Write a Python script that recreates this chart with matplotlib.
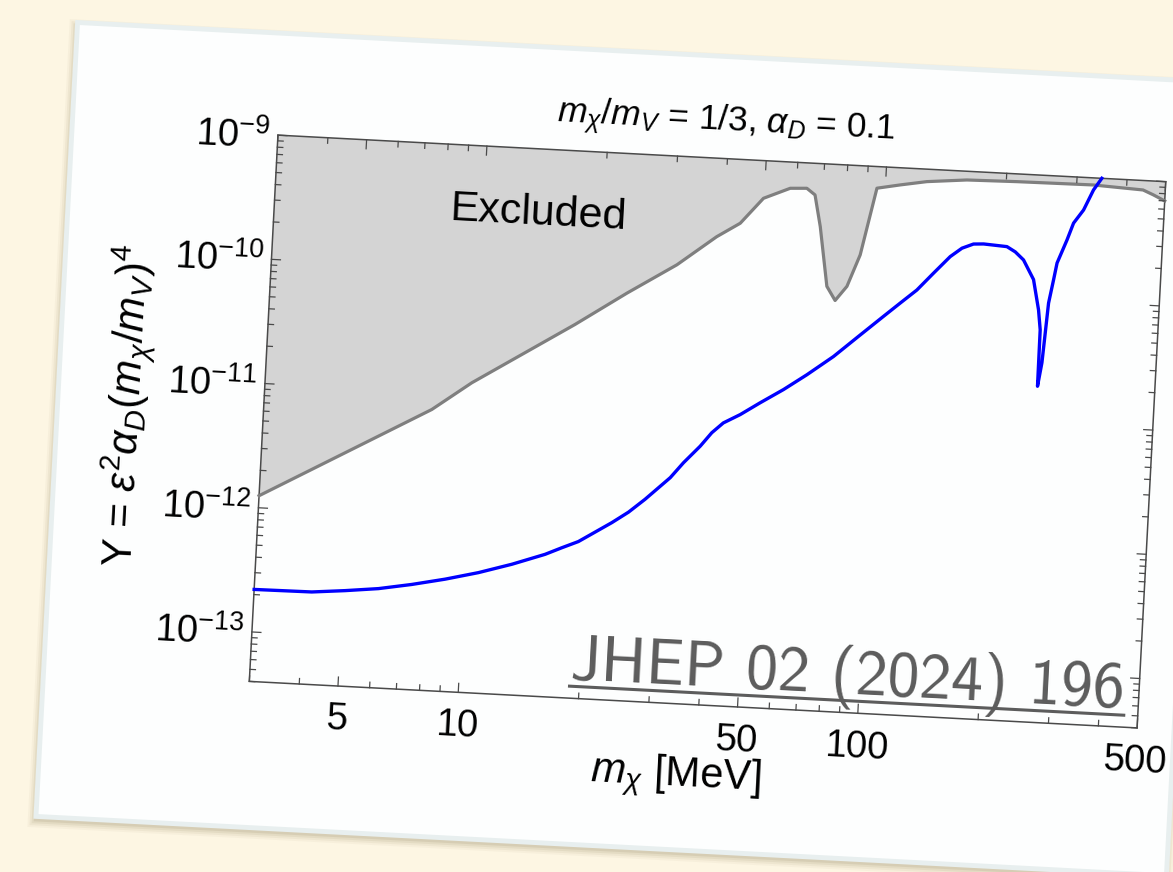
"""
Recreación de la figura Y vs m_chi (límite de exclusión), tarjeta girada 3 grados
"""
import matplotlib
matplotlib.use("Agg")
import matplotlib.pyplot as plt
from matplotlib.patches import Rectangle
from matplotlib.transforms import Affine2D, blended_transform_factory

plt.rcParams['font.family'] = ['Liberation Sans', 'DejaVu Sans']
plt.rcParams['mathtext.fontset'] = 'custom'
plt.rcParams['mathtext.rm'] = 'Liberation Sans'
plt.rcParams['mathtext.it'] = 'Liberation Sans:italic'
plt.rcParams['mathtext.bf'] = 'Liberation Sans:bold'

# Datos
# Borde de la región excluida (gris)
m_excl = [3, 5.85, 7.89, 9.85, 17.5, 23.4, 30.9, 38.5, 43.9, 49.8, 57.9, 63.7,
          66.9, 69.6, 73.6, 77.5, 82.6, 88.3, 95.3, 108.8, 126.7, 159.4, 212.6,
          330, 440, 468, 500]
Y_excl = [1.25e-12, 4.22e-12, 7.28e-12, 1.24e-11, 4.02e-11, 7.57e-11, 1.34e-10,
          2.34e-10, 3.07e-10, 4.98e-10, 6.15e-10, 6.25e-10, 5.57e-10, 3.12e-10,
          1.04e-10, 8.07e-11, 1.06e-10, 1.92e-10, 6.7e-10, 7.28e-10, 7.94e-10,
          8.51e-10, 8.66e-10, 8.77e-10, 8.39e-10, 7.73e-10, 7.0e-10]

# Curva azul (reliquia térmica)
m_sig = [3, 4.18, 5.06, 6.13, 7.41, 8.96, 10.83, 13.1, 15.8, 17.35, 19.06,
         22.97, 25.2, 27.6, 31.7, 34.05, 37.3, 39.7, 42.3, 46.5, 51.9, 59.2,
         67.4, 78.1, 89.6, 102.8, 112.7, 123.6, 135.3, 148.2, 158.2, 168.8,
         178.9, 204.7, 215.1, 226.1, 240.9, 250.2, 254.1, 254.5, 259.2, 264.5,
         270.3, 274.4, 288.5, 298.1, 314.5, 331, 346]
Y_sig = [2.2e-13, 2.22e-13, 2.35e-13, 2.52e-13, 2.81e-13, 3.2e-13, 3.73e-13,
         4.5e-13, 5.58e-13, 6.4e-13, 7.3e-13, 1.07e-12, 1.32e-12, 1.70e-12,
         2.6e-12, 3.47e-12, 4.79e-12, 6.21e-12, 7.53e-12, 8.93e-12, 1.13e-11,
         1.48e-11, 1.99e-11, 2.86e-11, 4.25e-11, 6.3e-11, 8.18e-11, 1.06e-10,
         1.47e-10, 2.03e-10, 2.40e-10, 2.62e-10, 2.65e-10, 2.58e-10, 2.36e-10,
         2.05e-10, 1.44e-10, 8.26e-11, 5.73e-11, 2.01e-11, 3.12e-11, 9.46e-11,
         1.46e-10, 2.0e-10, 3.09e-10, 4.25e-10, 5.47e-10, 8.0e-10, 1.0e-9]

x_major = [5, 10, 50, 100, 500]
x_labels = ['5', '10', '50', '100', '500']
x_minor = [3, 4, 6, 7, 8, 9, 20, 30, 40, 60, 70, 80, 90, 200, 300, 400]
y_exps = [-13, -12, -11, -10, -9]

title = r'$m_\chi/m_V$ = 1/3, $\alpha_D$ = 0.1'
ylabel = r'Y = $\epsilon^2\alpha_D(m_\chi/m_V)^4$'
xlabel = r'$m_\chi$ [MeV]'
cita = 'JHEP 02 (2024) 196'

# Geometría (pixeles, sin girar)
W, H = 1173, 872
ANG = 3.0
CX, CY = 707, 432
FRAME = (263, 158, 1152, 705)   # izq, arriba, der, abajo
CARD = (57, 56, 1189, 851)
TXT = 27.5
LAB = 30
INK = '#4a4a4a'

fig = plt.figure(figsize=(W / 100, H / 100), dpi=100)
fig.patch.set_facecolor('#fdf6e3')

# Eje de página en pixeles (y hacia abajo)
page = fig.add_axes([0, 0, 1, 1])
page.set_xlim(0, W)
page.set_ylim(H, 0)
page.axis('off')
t_page = Affine2D().rotate_deg_around(CX, CY, ANG) + page.transData

# Sombra y tarjeta
x0, y0, x1, y1 = CARD
for k, a in [(7, 0.04), (5, 0.06), (3, 0.08), (1, 0.1)]:
    page.add_patch(Rectangle((x0 - k - 1, y0 - k + 4), x1 - x0 + 2 * k, y1 - y0 + 2 * k,
                             transform=t_page, fc='#6b5a30', ec='none', alpha=a))
page.add_patch(Rectangle((x0, y0), x1 - x0, y1 - y0, transform=t_page,
                         fc='#fdfefe', ec='#e8efef', lw=3.5))

# Eje del gráfico
l, t, r, b = FRAME
fw, fh = r - l, b - t
ax = fig.add_axes([l / W, 1 - b / H, fw / W, fh / H])
ax.set_xscale('log')
ax.set_yscale('log')
ax.axis('off')

rot = Affine2D().rotate_deg_around(CX, H - CY, -ANG)
td = ax.transData + rot
ta = ax.transAxes + rot
bx = blended_transform_factory(ax.transData, ax.transAxes)
by = blended_transform_factory(ax.transAxes, ax.transData)

# Región excluida
ax.fill(m_excl + [500, 3], Y_excl + [1e-9, 1e-9], transform=td,
        fc='#d4d4d4', ec='none', clip_on=False)
ax.plot(m_excl, Y_excl, color='#7f7f7f', lw=2.3, transform=td, clip_on=False,
        solid_joinstyle='round')
ax.plot(m_sig, Y_sig, color='#0000ff', lw=2.4, transform=td, clip_on=False,
        solid_joinstyle='round')

# Marco
ax.add_patch(Rectangle((0, 0), 1, 1, transform=ta, fill=False, ec=INK, lw=1.1,
                       clip_on=False))

# Marcas de los ejes
for v in x_major + x_minor:
    L = 9 if v in x_major else 5.5
    ax.plot([v, v], [0, L / fh], transform=bx + rot, color=INK, lw=0.9, clip_on=False)
    ax.plot([v, v], [1, 1 - L / fh], transform=bx + rot, color=INK, lw=0.9, clip_on=False)

for e in y_exps + [-14]:
    for k in range(1, 10):
        v = k * 10.0 ** e
        if v < 4e-14 or v > 1e-9:
            continue
        L = 9 if k == 1 else 5.5
        ax.plot([0, L / fw], [v, v], transform=by + rot, color=INK, lw=0.9, clip_on=False)
        ax.plot([1, 1 - L / fw], [v, v], transform=by + rot, color=INK, lw=0.9, clip_on=False)

# Etiquetas
for v, lab in zip(x_major, x_labels):
    ax.text(v, 0, lab, transform=bx + Affine2D().translate(0, -16) + rot,
            ha='center', va='top', fontsize=TXT, rotation=-ANG, rotation_mode='anchor')

for e in y_exps:
    ax.text(0, 10.0 ** e, r'$\mathregular{10^{%d}}$' % e,
            transform=by + Affine2D().translate(-8, -14) + rot,
            ha='right', va='baseline', fontsize=TXT, rotation=-ANG, rotation_mode='anchor')

ax.text(0.5, 1, title, transform=ax.transAxes + Affine2D().translate(2, 28.5) + rot,
        ha='center', va='baseline', fontsize=25.5, rotation=-ANG, rotation_mode='anchor')
ax.text(0.5, 0, xlabel, transform=ax.transAxes + Affine2D().translate(-14, -82) + rot,
        ha='center', va='baseline', fontsize=LAB, rotation=-ANG, rotation_mode='anchor')
ax.text(0, 0.5, ylabel, transform=ax.transAxes + Affine2D().translate(-136, -4) + rot,
        ha='center', va='center', fontsize=LAB, rotation=90 - ANG, rotation_mode='anchor')
ax.text(8.23, 2.47e-10, 'Excluded', transform=td, ha='left', va='baseline',
        fontsize=31, rotation=-ANG, rotation_mode='anchor')

# Cita de la revista (marca de agua subrayada)
ax.text(583, 686, cita, transform=t_page, fontfamily='cmss10', fontsize=46,
        color='#5c5c5c', ha='left', va='baseline', rotation=-ANG,
        rotation_mode='anchor', clip_on=False)
ax.plot([583, 1138], [693, 693], transform=t_page, color='#5c5c5c', lw=2.2,
        clip_on=False)

ax.set_xlim(3, 500)
ax.set_ylim(4e-14, 1e-9)

fig.savefig('out.png', dpi=100, facecolor=fig.get_facecolor())
